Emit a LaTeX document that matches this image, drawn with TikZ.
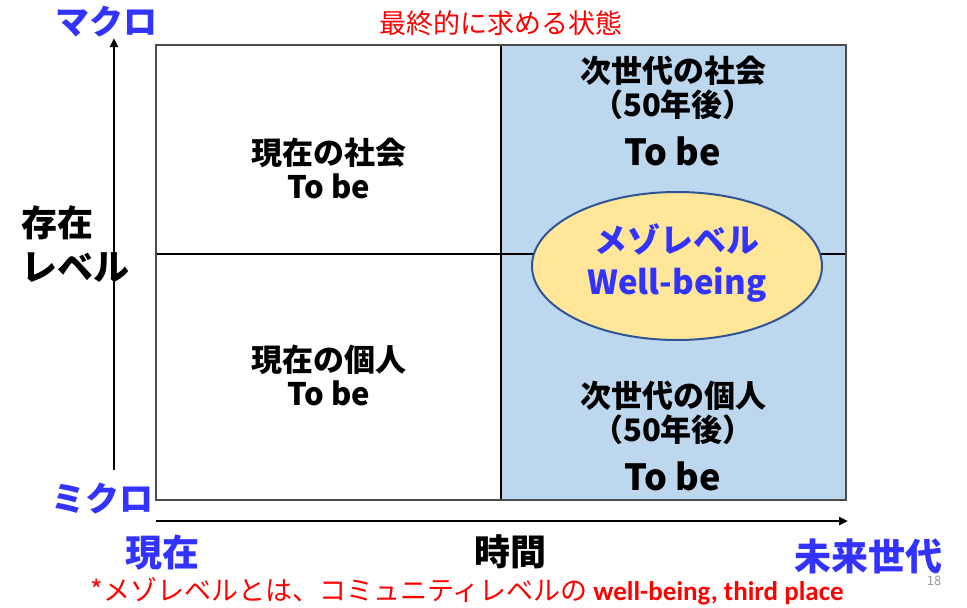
\documentclass[tikz,border=0pt]{standalone}
\usepackage{fontspec}
\setmainfont{Noto Sans CJK JP}
\newfontfamily\cjk{Noto Sans CJK JP}
\newfontfamily\cjkblack{Noto Sans CJK JP Black}
\newfontfamily\carl{Carlito}
\usetikzlibrary{arrows.meta,shapes.geometric}
\definecolor{cellblue}{HTML}{BDD7EE}
\definecolor{ellfill}{HTML}{FFE699}
\definecolor{ellline}{HTML}{2F5597}
\definecolor{lblblue}{HTML}{3333FF}
\definecolor{redtxt}{HTML}{FF0000}
\tikzset{
  celltxt/.style={font=\cjkblack\fontsize{31}{34}\selectfont, align=center, text=black},
  bigtxt/.style={font=\cjkblack\fontsize{36}{40}\selectfont, text=black},
  bluelbl/.style={font=\cjkblack\fontsize{34}{36}\selectfont, text=lblblue, align=center},
  axis/.style={line width=2.8pt, -{Triangle[length=9pt,width=8pt]}},
}
\begin{document}
\begin{tikzpicture}[x=1pt,y=-1pt]
\useasboundingbox (0,0) rectangle (967,608);
% cells
\fill[cellblue] (501,45) rectangle (846,500);
\draw[line width=1.2pt] (156,254) -- (846,254);
\draw[line width=1.2pt] (501,45) -- (501,500);
\draw[line width=2pt, draw=black!70] (156,45) rectangle (846,500);
% ellipse
\node[ellipse, draw=ellline, line width=2pt, fill=ellfill, minimum width=290pt, minimum height=148pt, inner sep=0pt] (meso) at (677,266) {};
\node[font=\cjkblack\fontsize{33}{42}\selectfont, text=lblblue, align=center] (mesotxt) at (677,263) {メゾレベル\\Well-being};
% cell texts
\node[celltxt] (now_soc) at (329,168) {現在の社会\\To be};
\node[celltxt] (now_ind) at (329,375) {現在の個人\\To be};
\node[celltxt] (fut_soc) at (673,88) {次世代の社会\\（50年後）};
\node[bigtxt] (fut_soc_b) at (673,151) {To be};
\node[celltxt] (fut_ind) at (673,413) {次世代の個人\\（50年後）};
\node[bigtxt] (fut_ind_b) at (673,476) {To be};
% axes
\coordinate (vbot) at (114,470);
\coordinate (vtop) at (114,38);
\coordinate (hl) at (156,521);
\coordinate (hr) at (848,521);
\draw[axis] (vbot) -- (vtop);
\draw[axis] (hl) -- (hr);
% labels
\node[bluelbl] (macro) at (106,22) {マクロ};
\node[bluelbl] (micro) at (102,499) {ミクロ};
\node[font=\cjkblack\fontsize{36}{44}\selectfont, text=black, align=left, anchor=west, inner sep=0pt] (level) at (21,244) {存在\\レベル};
\node[font=\cjkblack\fontsize{37}{40}\selectfont, text=lblblue] (now) at (162,553) {現在};
\node[bigtxt] (time) at (510,552) {時間};
\node[font=\cjkblack\fontsize{37}{40}\selectfont, text=lblblue] (future) at (868,556) {未来世代};
\node[font=\cjk\fontsize{27}{29}\selectfont, text=redtxt] (goal) at (501,23) {最終的に求める状態};
\node[font=\cjk\fontsize{27}{29}\selectfont, text=redtxt] (note) at (467,591) {*メゾレベルとは、コミュニティレベルの {\carl\bfseries well-being, third place}};
\node[font=\cjk\fontsize{13}{14}\selectfont, text=black!40] (page) at (934,581) {18};
\end{tikzpicture}
\end{document}
